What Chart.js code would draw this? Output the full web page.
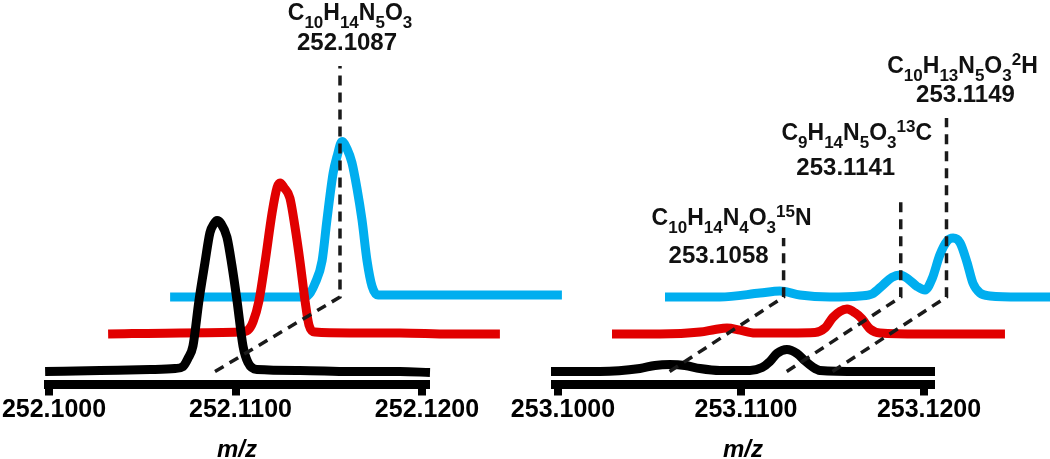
<!DOCTYPE html>
<html>
<head>
<meta charset="utf-8">
<script src="https://cdn.jsdelivr.net/npm/chart.js@4.4.1/dist/chart.umd.min.js"></script>
<style>
  html, body { margin:0; padding:0; background:#fff; width:1050px; height:459px; overflow:hidden; position:relative; }
  canvas { position:absolute; top:0; }
  #left  { left:-40px; }
  #right { left:470px; }
</style>
</head>
<body>
<canvas id="left" width="640" height="464"></canvas>
<canvas id="right" width="580" height="464"></canvas>
<script>
// ── data ──────────────────────────────────────
const leftTicks  = [252.1000, 252.1100, 252.1200];
const rightTicks = [253.1000, 253.1100, 253.1200];
const leftAxisRange  = [252.09973, 252.12043];
const rightAxisRange = [253.09962, 253.12060];
const axisTitle = 'm/z';

// left panel: m/z and relative intensity (%)
const lBlackMz  = [252.09979,252.10273,252.10542,252.10676,252.10718,252.10745,252.10772,252.10804,252.10836,252.10863,252.10885,252.10901,252.10922,252.10954,252.10981,252.11008,252.11040,252.11067,252.11115,252.11346,252.11614,252.11882,252.12043];
const lBlackInt = [0,0.7,1.3,2,3.3,8.6,17,47,72,92,98,100,98,89,70,47,17,6,1.3,0.7,0,0,-0.7];
const lRedMz    = [252.09979,252.10365,252.10686,252.10729,252.10756,252.10788,252.10820,252.10858,252.10885,252.10901,252.10922,252.10954,252.10981,252.11008,252.11035,252.11056,252.11088,252.11276,252.11544,252.11812,252.12080];
const lRedInt   = [0,0.7,1.3,2.6,8,22,47,80,97,100,97,90,71,48,22,6,1.3,0.7,0.7,0,0];
const lBlueMz   = [252.09979,252.10408,252.10676,252.10718,252.10756,252.10794,252.10820,252.10853,252.10874,252.10901,252.10928,252.10954,252.10981,252.11008,252.11035,252.11062,252.11094,252.11212,252.11480,252.11748,252.12080];
const lBlueInt  = [0,0,0,1,9,24,51,82,93,103,98,89,72,51,24,7,1.3,1.3,1.3,1.3,1.3];

// right panel
const rBlackMz  = [253.09962,253.10230,253.10448,253.10530,253.10612,253.10694,253.10776,253.10885,253.11049,253.11115,253.11158,253.11197,253.11251,253.11306,253.11350,253.11388,253.11432,253.11650,253.11869,253.12060];
const rBlackInt = [0,0,2,4,4.6,4,2,0.7,0.7,2.6,6.6,12,14.6,12,7,3.3,0.7,0,0,0];
const rRedMz    = [253.09962,253.10224,253.10443,253.10525,253.10590,253.10661,253.10743,253.10934,253.11071,253.11126,253.11169,253.11208,253.11246,253.11290,253.11328,253.11372,253.11426,253.11645,253.11863,253.12109];
const rRedInt   = [0,0,1.3,3,4,2.6,0.7,0.7,1,4,11,15,16.5,14,10,3.3,0.7,0,0,0];
const rBlueMz   = [253.09962,253.10262,253.10481,253.10590,253.10699,253.10863,253.11027,253.11093,253.11153,253.11202,253.11246,253.11290,253.11339,253.11383,253.11421,253.11464,253.11503,253.11536,253.11574,253.11612,253.11645,253.11683,253.11738,253.11902,253.12066];
const rBlueInt  = [0,0,2.6,4,1.3,0,0.7,2,8,13,14.6,12,7,4.6,12,28,37,39,36,23,9,2.6,0.7,0,0];

// assignments
const leftMarkMz    = [252.1089];
const leftFormula   = ['C_{10}H_{14}N_{5}O_{3}'];
const leftMass      = ['252.1087'];
const rightMarkMz   = [253.1061, 253.1125, 253.1150];
const rightFormula  = ['C_{10}H_{14}N_{4}O_{3}^{15}N', 'C_{9}H_{14}N_{5}O_{3}^{13}C', 'C_{10}H_{13}N_{5}O_{3}^{2}H'];
const rightMass     = ['253.1058', '253.1141', '253.1149'];

// ── layout ────────────────────────────────────
const FONT = '"Liberation Sans", Arial, sans-serif';
const COLORS = ['#000000', '#e10000', '#00aeef'];
const AREA_TOP = 0, AREA_BOTTOM = 384.5;
const PX_PER_PCT = 1.51;
const BASE_ABOVE_AXIS = [13, 50.5, 87.5];  // trace baselines, px above the axis

const leftLabelPos  = [{fdx:10, fy:20, mdx:7, my:50, top:66}];
const rightLabelPos = [
  {fdx:-52, fy:225, mdx:-65, my:263, top:238},
  {fdx:-44, fy:140, mdx:-55, my:175, top:198},
  {fdx:16,  fy:73,  mdx:19,  my:102, top:118}
];

function formulaParts(s) {
  const out = [], re = /([_^])\{([^}]*)\}|([^_^]+)/g;
  let m;
  while ((m = re.exec(s))) out.push(m[3] ? {t:m[3], k:''} : {t:m[2], k:m[1]});
  return out;
}

function drawFormula(ctx, s, cx, baseY) {
  const parts = formulaParts(s);
  const fontOf = k => k ? `bold 17px ${FONT}` : `bold 23px ${FONT}`;
  let w = 0;
  parts.forEach(p => { ctx.font = fontOf(p.k); p.w = ctx.measureText(p.t).width; w += p.w; });
  let x = cx - w / 2;
  ctx.textAlign = 'left';
  ctx.textBaseline = 'alphabetic';
  parts.forEach(p => {
    ctx.font = fontOf(p.k);
    const dy = p.k === '_' ? 8 : p.k === '^' ? -8 : 0;
    ctx.fillText(p.t, x, baseY + dy);
    x += p.w;
  });
}

// thick axis bar and axis title, only over the axis range
const axisBarPlugin = {
  id: 'axisBar',
  beforeDatasetsDraw(chart, args, opts) {
    const s = chart.scales.x0, ctx = chart.ctx;
    const x1 = s.getPixelForValue(opts.range[0]), x2 = s.getPixelForValue(opts.range[1]);
    ctx.save();
    ctx.fillStyle = '#000';
    ctx.fillRect(x1, s.top - 4.5, x2 - x1, 9);
    ctx.font = `italic bold 24px ${FONT}`;
    ctx.textAlign = 'center';
    ctx.textBaseline = 'alphabetic';
    ctx.fillText(opts.title, (x1 + x2) / 2, 457);
    ctx.restore();
  }
};

const guidePlugin = {
  id: 'guides',
  afterDatasetsDraw(chart, args, opts) {
    const {ctx, scales} = chart;
    ctx.save();
    ctx.fillStyle = '#111';
    opts.mz.forEach((mz, i) => {
      const pos = opts.pos[i];
      const x0 = scales.x0.getPixelForValue(mz), y0 = scales.y0.getPixelForValue(0);
      const xb = scales.x2.getPixelForValue(mz), yb = scales.y2.getPixelForValue(0);
      ctx.setLineDash([10, 7]);
      ctx.lineWidth = 3.5;
      ctx.strokeStyle = '#1a1a1a';
      ctx.beginPath();
      ctx.moveTo(x0, y0);
      ctx.lineTo(xb, yb);
      ctx.lineTo(xb, pos.top);
      ctx.stroke();
      ctx.setLineDash([]);
      drawFormula(ctx, opts.formula[i], xb + pos.fdx, pos.fy);
      ctx.font = `bold 24px ${FONT}`;
      ctx.textAlign = 'center';
      ctx.fillText(opts.mass[i], xb + pos.mdx, pos.my);
    });
    ctx.restore();
  }
};

function makePanel(id, p) {
  const cv = document.getElementById(id);
  // page pixels of the axis range ends -> m/z per pixel
  const perPx = (p.range[1] - p.range[0]) / (p.pxEnd - p.pxStart);
  const xMin = p.range[0] - (p.pxStart - p.canvasLeft) * perPx;
  const xMax = xMin + cv.width * perPx;
  const areaH = AREA_BOTTOM - AREA_TOP;
  const scales = {};
  const datasets = p.traces.map((t, i) => {
    const du = p.dx[i] * perPx;
    const yMin = -BASE_ABOVE_AXIS[i] / PX_PER_PCT;
    scales['x' + i] = { type:'linear', display:false, min:xMin - du, max:xMax - du };
    scales['y' + i] = { type:'linear', display:false, min:yMin, max:yMin + areaH / PX_PER_PCT };
    return {
      data: t.mz.map((m, j) => ({x:m, y:t.int[j]})),
      xAxisID:'x' + i, yAxisID:'y' + i,
      borderColor:COLORS[i], borderWidth:9, pointRadius:0,
      cubicInterpolationMode:'monotone', borderJoinStyle:'round',
      fill:false, clip:false
    };
  });
  Object.assign(scales.x0, {
    display:true, position:'bottom',
    afterBuildTicks: s => { s.ticks = p.ticks.map(v => ({value:v})); },
    border:{display:false},
    grid:{display:true, drawOnChartArea:false, drawTicks:true, tickLength:11, tickWidth:8, lineWidth:8, tickColor:'#000', color:'#000'},
    ticks:{color:'#000', padding:0, maxRotation:0, autoSkip:false, labelOffset:5,
           font:{family:FONT, size:25, weight:'bold'}, callback: v => v.toFixed(4)},
    title:{display:false}
  });
  return new Chart(cv, {
    type:'line',
    data:{ datasets },
    options:{
      responsive:false, animation:false, events:[],
      layout:{ padding:{left:0, right:0, top:AREA_TOP, bottom:38.5} },
      scales,
      plugins:{
        legend:{display:false}, tooltip:{enabled:false},
        axisBar:{ range:p.range, title:axisTitle },
        guides:{ mz:p.markMz, formula:p.formula, mass:p.mass, pos:p.labelPos }
      }
    },
    plugins:[axisBarPlugin, guidePlugin]
  });
}

makePanel('left', {
  canvasLeft:-40, pxStart:44, pxEnd:430, range:leftAxisRange,
  ticks:leftTicks, dx:[0, 63, 125],
  traces:[{mz:lBlackMz, int:lBlackInt}, {mz:lRedMz, int:lRedInt}, {mz:lBlueMz, int:lBlueInt}],
  markMz:leftMarkMz, formula:leftFormula, mass:leftMass, labelPos:leftLabelPos
});

makePanel('right', {
  canvasLeft:470, pxStart:551, pxEnd:935, range:rightAxisRange,
  ticks:rightTicks, dx:[0, 61, 114],
  traces:[{mz:rBlackMz, int:rBlackInt}, {mz:rRedMz, int:rRedInt}, {mz:rBlueMz, int:rBlueInt}],
  markMz:rightMarkMz, formula:rightFormula, mass:rightMass, labelPos:rightLabelPos
});
</script>
</body>
</html>
